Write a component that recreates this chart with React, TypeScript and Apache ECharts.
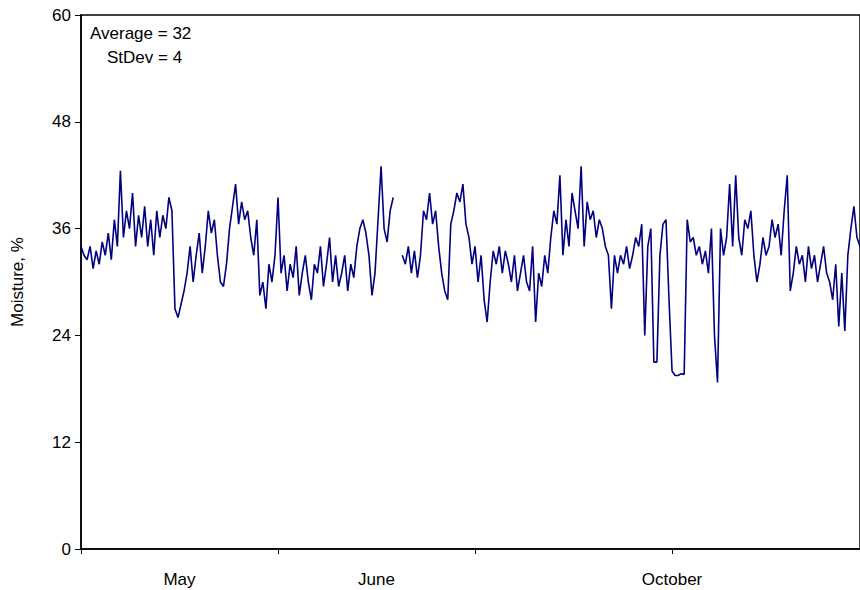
import React, { useEffect, useRef } from "react";
import * as echarts from "echarts";

const STEP = 1 / 65;
const moisture: (number | null)[] = [
  34,33,32.5,34,31.5,33.5,32,34.5,33,35.5,32.5,37,34,
  42.5,35,38,36,40,34,37.5,35,38.5,34,37,33,38,
  35,37.5,36,39.5,38,27,26,27.5,29,31,34,30,33,
  35.5,31,34,38,35.5,37,33,30,29.5,32,36,38.5,41,
  36.5,39,37,38,35,33,37,28.5,30,27,32,30,33,
  39.5,31,33,29,32,30.5,34,28.5,31,33,30,28,32,
  31,34,29.5,32,35,30,33,29.5,31,33,29,32,30.5,
  34,36,37,35.5,33,28.5,31,37,43,36,34.5,38,39.5,
  null,null,33,32,34,31,33.5,30.5,33,38,37,40,36.5,
  38,34,31,29,28,36.5,38,40,39,41,36.5,35,32,
  34,30,33,28,25.5,30,33.5,32,34,31,33.5,32,30,
  33,29,31,33,30,29,34,25.5,31,29.5,33,31,35,
  38,36.5,42,33,37,34,40,38,36,43,34,39,37,
  38,35,37,36,34,33,27,33,31,33,32,34,31.5,
  33,35,34,36.5,24,34,36,21,21,33,36.5,37,28,
  20,19.5,19.5,19.7,19.6,37,34.5,35,33,34,32,33.5,31,
  36,24,18.7,36,33,35,41,34,42,35,33,37,36,
  38,33,30,32,35,33,34,37,35,36.5,33,38,42,
  29,31,34,32,33,30,34,31.5,33,30,32,34,31,
  30,28,32,25,31,24.5,33,36,38.5,35,34,33,
];
const monthLabels = ["May", "June", "October"];
const monthPositions = [0.5, 1.5, 3.0];
const yTicks = [0, 12, 24, 36, 48, 60];
const notes = ["Average = 32", "StDev = 4"];

export default function App() {
  const ref = useRef<HTMLDivElement>(null);
  useEffect(() => {
    const chart = echarts.init(ref.current!, null, { renderer: "svg" });
    const font = "Arial, 'Liberation Sans', sans-serif";
    chart.setOption({
      animation: false,
      grid: { left: 81, right: 0, top: 15, bottom: 41, show: true, borderColor: "#000", borderWidth: 1.5,
        containLabel: false, outerBoundsMode: "none" },
      xAxis: [
        {
          type: "value", min: 0, max: 3.954, interval: 1,
          axisLine: { lineStyle: { color: "#000", width: 1.5 } },
          axisTick: { show: true, length: 5, lineStyle: { color: "#000" } },
          axisLabel: { show: false }, splitLine: { show: false },
        },
        {
          type: "value", min: 0, max: 3.954, position: "bottom",
          axisLine: { show: false }, axisTick: { show: false }, splitLine: { show: false },
          axisLabel: {
            customValues: monthPositions, margin: 22,
            formatter: (v: number) => monthLabels[monthPositions.indexOf(v)] ?? "",
            color: "#000", fontSize: 17, fontFamily: font,
          },
        },
      ],
      yAxis: {
        type: "value", min: 0, max: 60, interval: 12,
        name: "Moisture, %", nameLocation: "middle", nameGap: 55,
        nameTextStyle: { color: "#000", fontSize: 17, fontFamily: font },
        axisLine: { show: true, lineStyle: { color: "#000", width: 1.5 } },
        axisTick: { show: true, length: 6, lineStyle: { color: "#000" } },
        axisLabel: { color: "#000", fontSize: 17, fontFamily: font, margin: 10,
          formatter: (v: number) => (yTicks.includes(v) ? String(v) : "") },
        splitLine: { show: false },
      },
      graphic: [
        { type: "text", left: 90, top: 25, style: { text: notes[0], fontSize: 17, fontFamily: font, fill: "#000" } },
        { type: "text", left: 107, top: 49, style: { text: notes[1], fontSize: 17, fontFamily: font, fill: "#000" } },
      ],
      series: [
        {
          type: "line", xAxisIndex: 0, showSymbol: false, connectNulls: false,
          lineStyle: { color: "#000080", width: 1.6 },
          data: moisture.map((v, i) => [i * STEP, v]),
        },
      ],
    });
    return () => chart.dispose();
  }, []);
  return <div ref={ref} style={{ position: "fixed", left: 0, top: 0, width: 860, height: 590, background: "#fff" }} />;
}
